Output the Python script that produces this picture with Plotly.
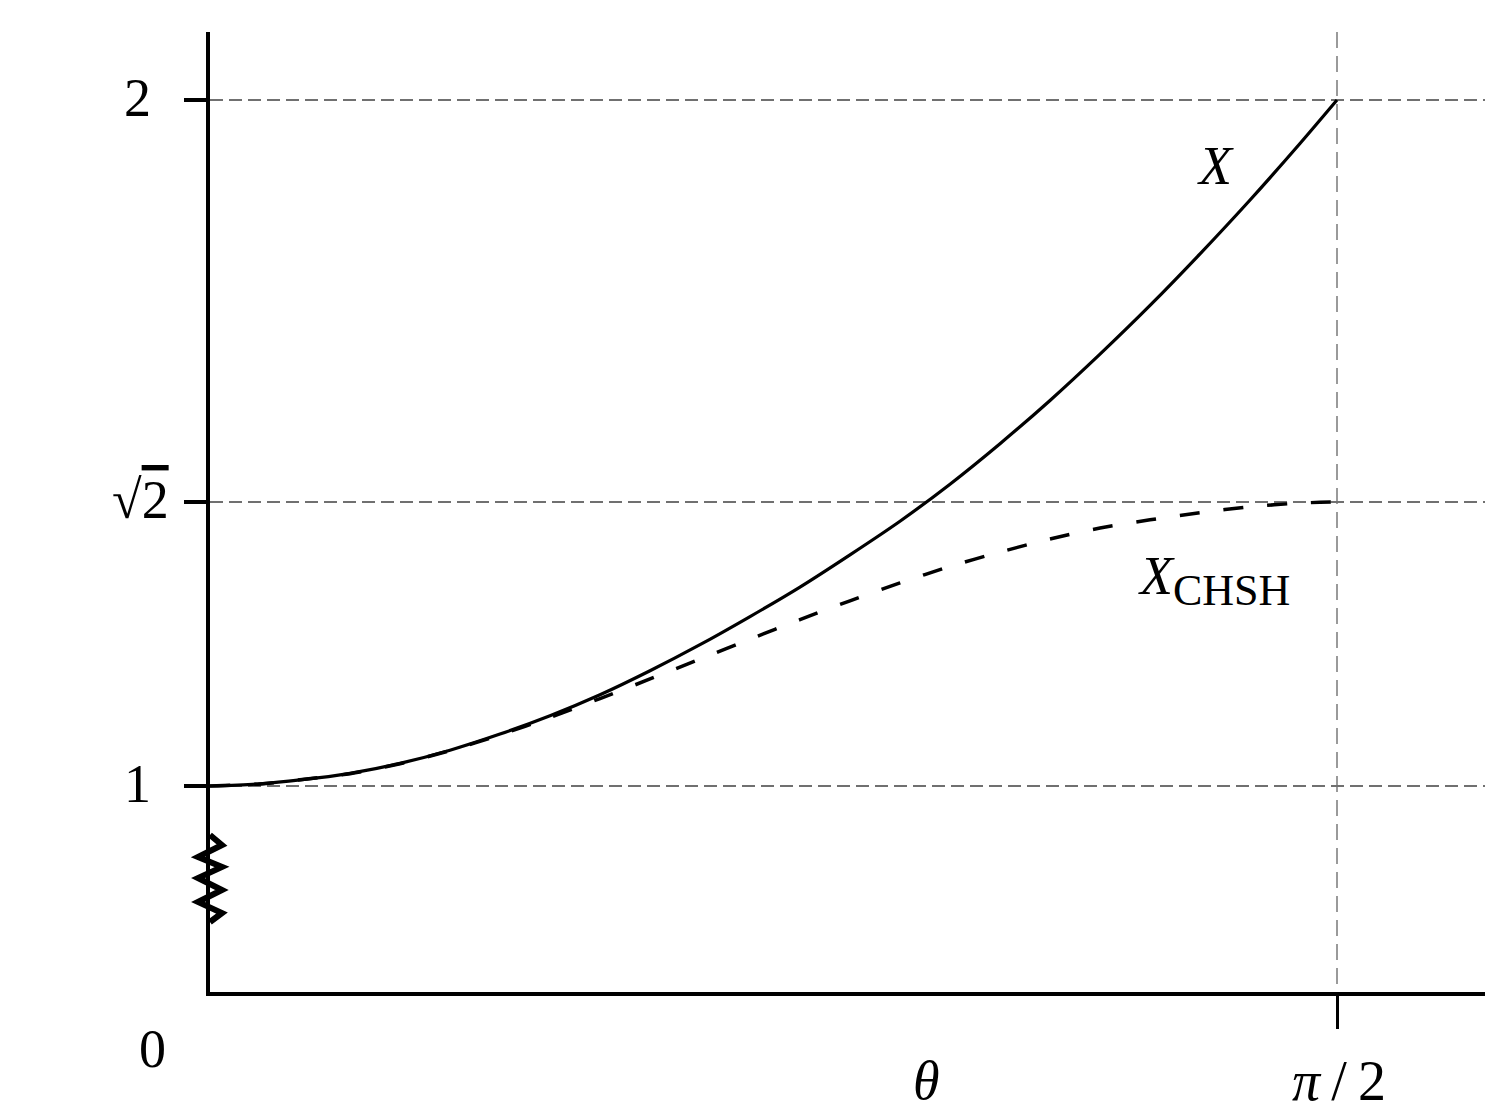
import math
import plotly.graph_objects as go

# ---- data (theta in radians) ----
theta = [0.0, 0.0697, 0.1254, 0.1951, 0.2648, 0.3345, 0.4042, 0.4739, 0.5436,
         0.6133, 0.6830, 0.7527, 0.8223, 0.8920, 0.9617, 1.0314, 1.1011, 1.1708,
         1.2405, 1.3102, 1.3799, 1.4496, 1.5192, 1.5708]
x_vals = [1.000, 1.0032, 1.0088, 1.0185, 1.0330, 1.0522, 1.0757, 1.1024, 1.1330,
          1.1680, 1.2060, 1.2470, 1.2900, 1.3370, 1.3860, 1.4400, 1.4990, 1.5620,
          1.6295, 1.7005, 1.7757, 1.8542, 1.9366, 2.0000]
x_chsh = [1.000, 1.0030, 1.0090, 1.0180, 1.0325, 1.0515, 1.0745, 1.1000, 1.1275,
          1.1560, 1.1850, 1.2140, 1.2425, 1.2700, 1.2960, 1.3200, 1.3410, 1.3600,
          1.3760, 1.3880, 1.3985, 1.4070, 1.4124, 1.4142]

y_ticks = [1.0, math.sqrt(2), 2.0]
x_ticks = [math.pi / 2]

W, H = 1485, 1115
L, R, T, B = 210, 0, 32, 123
PW, PH = W - L - R, H - T - B


def pp(px, py):
    """pixel -> paper coordinates"""
    return (px - L) / PW, (H - B - py) / PH


FONT = "Liberation Serif"
FS = 54

fig = go.Figure()
fig.add_trace(go.Scatter(x=theta, y=x_vals, mode="lines",
                         line=dict(color="black", width=3.2, shape="spline", smoothing=0.8),
                         hoverinfo="skip"))
fig.add_trace(go.Scatter(x=theta, y=x_chsh, mode="lines",
                         line=dict(color="black", width=3.5, dash="20px,24px",
                                   shape="spline", smoothing=0.8),
                         hoverinfo="skip"))

annots = []


def lab(text, px, py, xanchor="center", yanchor="middle", size=FS):
    x, y = pp(px, py)
    annots.append(dict(text=text, x=x, y=y, xref="paper", yref="paper",
                       xanchor=xanchor, yanchor=yanchor, showarrow=False,
                       font=dict(family=FONT, size=size, color="black")))


lab("2", 137, 98)
lab("√<span style='text-decoration:overline'>2</span>", 140, 500)
lab("1", 137, 784)
lab("0", 152, 1049)
lab("<i>θ</i>", 926, 1113, yanchor="bottom")
lab("<i>π</i>\u2009/\u20092", 1339, 1114, yanchor="bottom", size=56)
lab("<i>X</i>", 1215, 166)
lab("<i>X</i><sub><span style='font-size:44px'>CHSH</span></sub>", 1136, 580, xanchor="left")

zig = [(210, 835), (222, 845), (198, 857), (222, 867), (198, 878),
       (222, 890), (198, 902), (222, 913), (210, 922)]
path = ""
for i, (a, b) in enumerate(zig):
    x, y = pp(a, b)
    path += ("M" if i == 0 else "L") + f"{x:.5f},{y:.5f} "

fig.update_layout(
    width=W, height=H,
    margin=dict(l=L, r=R, t=T, b=B),
    paper_bgcolor="white", plot_bgcolor="white",
    showlegend=False,
    annotations=annots,
    shapes=[dict(type="path", path=path, xref="paper", yref="paper",
                 line=dict(color="black", width=6), layer="above")],
    xaxis=dict(range=[0, (W - L) / 1127 * math.pi / 2], tickvals=x_ticks,
               showticklabels=False, ticks="outside", ticklen=33, tickwidth=3,
               tickcolor="black", showline=True, linewidth=4, linecolor="black",
               showgrid=True, gridcolor="#9a9a9a", gridwidth=2, griddash="16px,8px",
               zeroline=False),
    yaxis=dict(range=[1 - 206 / 686, 1 + 754 / 686], tickvals=y_ticks,
               showticklabels=False, ticks="outside", ticklen=22, tickwidth=4,
               tickcolor="black", showline=True, linewidth=3.5, linecolor="black",
               showgrid=True, gridcolor="#707070", gridwidth=1.5, griddash="13px,6px",
               zeroline=False),
)

fig.write_html("out.html", config={"displayModeBar": False},
               post_script="document.body.style.margin='0';document.body.style.overflow='hidden';")
